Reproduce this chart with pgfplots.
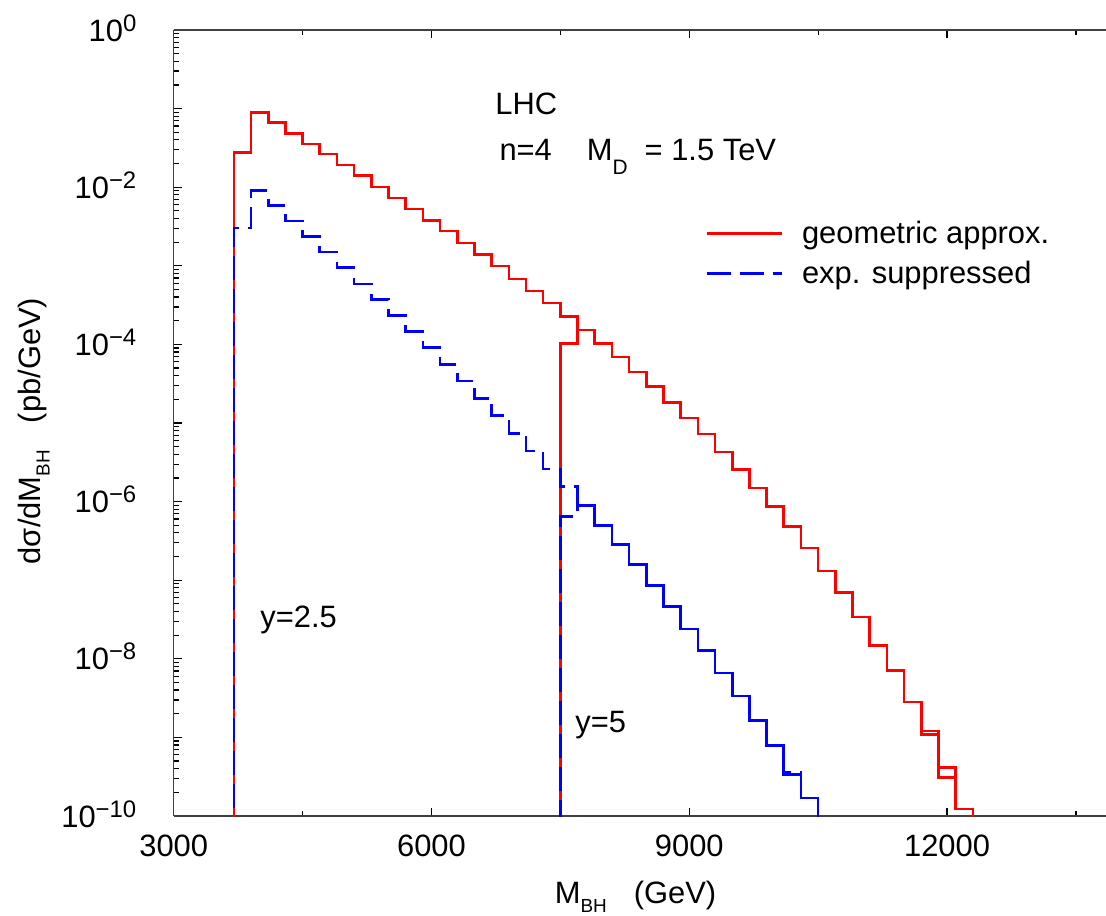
\documentclass[border=0pt]{standalone}
\usepackage{fontspec}
\setmainfont{Liberation Sans}
\usepackage{pgfplots}
\pgfplotsset{compat=1.18}
\newcommand{\sups}[1]{\raisebox{5bp}{\fontsize{12}{12}\selectfont #1}}
\newcommand{\subs}[1]{\raisebox{-4.5bp}{\fontsize{9.5}{9.5}\selectfont #1}}
\definecolor{myred}{RGB}{255,0,0}
\definecolor{myblue}{RGB}{0,0,255}
\begin{document}
\begin{tikzpicture}[font=\fontsize{15.5}{18.6}\selectfont]
\path[use as bounding box] (-86.85bp,-50bp) rectangle (466.15bp,408bp);
\begin{axis}[
  at={(0,0)}, anchor=south west,
  scale only axis,
  width=466.15bp, height=393bp,
  xmin=3000, xmax=13850,
  ymode=log, ymin=1e-10, ymax=1,
  axis x line*=box, axis y line*=left,
  y axis line style={-},
  axis line style={black!75, line width=0.8bp},
  scaled x ticks=false,
  xtick={3000,6000,9000,12000},
  xticklabels={3000,6000,9000,12000},
  minor xtick={4500,7500,10500,13500},
  ytick={1e-10,1e-9,1e-8,1e-7,1e-6,1e-5,1e-4,1e-3,1e-2,1e-1,1},
  yticklabels={10\sups{−10},,10\sups{−8},,10\sups{−6},,10\sups{−4},,10\sups{−2},,10\sups{0}},
  tick align=inside,
  major tick length=4bp, minor tick length=2.5bp,
  tick style={black, line width=0.6bp},
  xticklabel style={inner sep=0pt, anchor=north, yshift=-9.5bp},
  yticklabel style={inner sep=0pt, anchor=base east, xshift=-18.5bp, yshift=-5.5bp},
  xlabel={M\subs{BH}\hspace{13.5bp}(GeV)},
  ylabel={dσ/dM\subs{BH}\hspace{13.5bp}(pb/GeV)},
  every axis x label/.style={at={(axis description cs:0.4953,0)}, anchor=base, yshift=-43.7bp},
  every axis y label/.style={at={(axis description cs:-0.150,0.4898)}, rotate=90, anchor=center},
  const plot,
  legend cell align=left,
  legend image code/.code={\draw[#1] (0bp,5bp) -- (37.5bp,5bp);},
  legend style={draw=none, fill=none, at={(axis description cs:0.5699,0.7578)}, anchor=north west,
    inner sep=0pt, row sep=5.4bp,
    nodes={inner sep=0pt, text height=11.3bp, text depth=3.3bp, anchor=base west},
    /tikz/every odd column/.append style={column sep=9.5bp}},
]
% geometric approx., y=2.5
\addplot[myred, line width=1.3bp] coordinates {
(3700,1e-12) (3700,2.75e-2) (3900,8.99e-2) (4100,6.70e-2) (4300,4.86e-2) (4500,3.56e-2)
(4700,2.63e-2) (4900,1.92e-2) (5100,1.40e-2) (5300,1.01e-2) (5500,7.31e-3) (5700,5.25e-3)
(5900,3.80e-3) (6100,2.78e-3) (6300,1.96e-3) (6500,1.39e-3) (6700,9.90e-4) (6900,6.82e-4)
(7100,4.80e-4) (7300,3.35e-4) (7500,2.26e-4) (7700,1.53e-4) (7900,1.02e-4) (8100,6.90e-5)
(8300,4.44e-5) (8500,2.92e-5) (8700,1.83e-5) (8900,1.16e-5) (9100,7.23e-6) (9300,4.27e-6)
(9500,2.55e-6) (9700,1.49e-6) (9900,8.69e-7) (10100,4.80e-7) (10300,2.57e-7) (10500,1.31e-7)
(10700,6.95e-8) (10900,3.41e-8) (11100,1.47e-8) (11300,7.14e-9) (11500,2.83e-9) (11700,1.20e-9)
(11900,4.17e-10) (12100,1.23e-10) (12300,1e-12)};
\addlegendentry{geometric approx.}
% geometric approx., y=5
\addplot[myred, line width=1.3bp, forget plot] coordinates {
(7500,1e-12) (7500,1.02e-4) (7700,1.53e-4) (7900,1.02e-4) (8100,6.90e-5)
(8300,4.44e-5) (8500,2.92e-5) (8700,1.83e-5) (8900,1.16e-5) (9100,7.23e-6) (9300,4.27e-6)
(9500,2.55e-6) (9700,1.49e-6) (9900,8.69e-7) (10100,4.80e-7) (10300,2.57e-7) (10500,1.31e-7)
(10700,6.95e-8) (10900,3.41e-8) (11100,1.47e-8) (11300,7.14e-9) (11500,2.83e-9) (11700,1.09e-9)
(11900,3.11e-10) (12100,1.23e-10) (12300,1e-12)};
% exp. suppressed, y=2.5
\addplot[myblue, line width=1.3bp, dash pattern=on 12bp off 4.5bp] coordinates {
(3700,1e-12) (3700,3.01e-3) (3900,9.05e-3) (4100,5.83e-3) (4300,3.73e-3) (4500,2.35e-3)
(4700,1.49e-3) (4900,9.51e-4) (5100,5.89e-4) (5300,3.74e-4) (5500,2.33e-4) (5700,1.45e-4)
(5900,9.08e-5) (6100,5.57e-5) (6300,3.44e-5) (6500,2.06e-5) (6700,1.25e-5) (6900,7.41e-6)
(7100,4.41e-6) (7300,2.61e-6) (7500,1.55e-6) (7700,8.87e-7) (7900,4.94e-7) (8100,2.83e-7)
(8300,1.58e-7) (8500,8.53e-8) (8700,4.65e-8) (8900,2.40e-8) (9100,1.28e-8) (9300,6.62e-9)
(9500,3.38e-9) (9700,1.63e-9) (9900,7.87e-10) (10100,3.37e-10) (10300,1.70e-10) (10500,1e-12)};
\addlegendentry{exp. suppressed}
% exp. suppressed, y=5
\addplot[myblue, line width=1.3bp, dash pattern=on 12bp off 4.5bp, dash phase=8bp, forget plot] coordinates {
(7500,1e-12) (7500,6.52e-7) (7700,8.87e-7) (7900,4.94e-7) (8100,2.83e-7)
(8300,1.58e-7) (8500,8.53e-8) (8700,4.65e-8) (8900,2.40e-8) (9100,1.28e-8) (9300,6.62e-9)
(9500,3.38e-9) (9700,1.63e-9) (9900,7.87e-10) (10100,3.60e-10) (10300,1.70e-10) (10500,1e-12)};
\node[anchor=base west, inner sep=0pt] at (axis cs:6740,0.0830) {LHC};
\node[anchor=base west, inner sep=0pt] at (axis cs:6787,0.0216) {n=4\hspace{17.5bp}M\raisebox{-7bp}{\fontsize{10.5}{10.5}\selectfont D}\hspace{8.5bp}= 1.5 TeV};
\node[anchor=base west, inner sep=0pt] at (axis cs:4005,2.49e-8) {y=2.5};
\node[anchor=base west, inner sep=0pt] at (axis cs:7671,1.15e-9) {y=5};
\end{axis}
\end{tikzpicture}
\end{document}
